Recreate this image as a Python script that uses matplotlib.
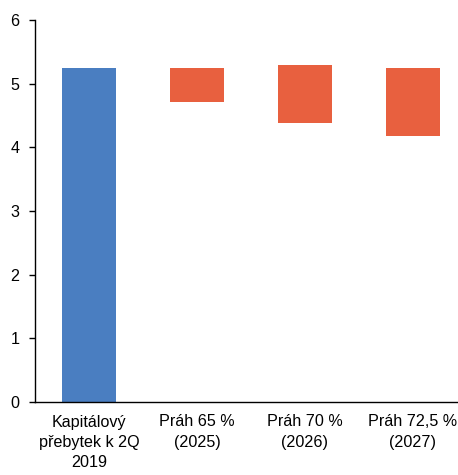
import matplotlib.pyplot as plt

plt.rcParams["font.family"] = ["Liberation Sans", "DejaVu Sans"]

categories = ["Kapitálový\npřebytek k 2Q\n2019", "Práh 65 %\n(2025)",
              "Práh 70 %\n(2026)", "Práh 72,5 %\n(2027)"]
tops = [5.24, 5.24, 5.29, 5.24]
bottoms = [0.0, 4.71, 4.385, 4.18]
colors = ["#4A7EC1", "#E8603F", "#E8603F", "#E8603F"]

fig = plt.figure(figsize=(4.58, 4.75), dpi=100)
ax = fig.add_axes([35 / 458, 73 / 475, 423 / 458, 382 / 475])

x = range(len(categories))
heights = [t - b for t, b in zip(tops, bottoms)]
ax.bar(x, heights, bottom=bottoms, width=0.5, color=colors)

ax.set_ylim(0, 6)
ax.set_xlim(-0.5, 3.417)
ax.set_yticks(range(7))
ax.set_xticks(list(x))
ax.set_xticklabels(categories, fontsize=11.6, linespacing=1.45)
ax.tick_params(axis="y", labelsize=11.6, length=4, width=1, direction="out", pad=7)
ax.tick_params(axis="x", length=0, pad=9)

for side in ["top", "right"]:
    ax.spines[side].set_visible(False)
ax.spines["left"].set_linewidth(1)
ax.spines["bottom"].set_linewidth(1)

fig.savefig("out.png", dpi=100)
